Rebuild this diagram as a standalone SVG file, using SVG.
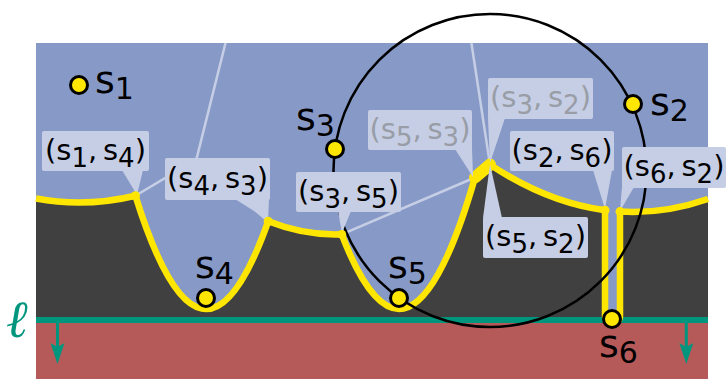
<svg xmlns="http://www.w3.org/2000/svg" width="726" height="379" viewBox="0 0 726 379">
<style>
.box{fill:#c6cee5}
.edge{stroke:#c6cee5;stroke-width:2.5;fill:none}
.beach{stroke:#ffe600;stroke-width:6.5;fill:none;stroke-linejoin:round}
.site{fill:#ffe600;stroke:#000;stroke-width:3}
.vtx{fill:#ffe600}
.lbl{font-family:"DejaVu Sans",sans-serif;font-size:29px;fill:#000}
.grey{fill:#989da6}
.sub{font-size:26px}
.slbl{font-family:"DejaVu Sans",sans-serif;font-size:38px;fill:#000}
.ssub{font-size:30px}
.teal{fill:#00967e}
</style>
<g id="background">
<rect x="36" y="43" width="672" height="275" fill="#879ac7"/>
<path d="M36,198.57 Q85.7,207.66 135.4,195.73 Q201.8,408.8 268.2,221.3 Q304.95,235.8 341.7,234.37 Q408.35,407.97 475,177.5 L490,164.6 Q547.5,202.73 605,210.19 L605,316 A7.5,7.5 0 0 0 620,316 L620,211.6 Q664,214.25 708,198.98 L708,318 L36,318 Z" fill="#404040"/>
<rect x="36" y="323" width="672" height="56" fill="#b65959"/>
<rect x="36" y="317" width="672" height="6" class="teal"/>
</g>
<g id="sweepline">
<rect x="56" y="323" width="3" height="24" class="teal"/>
<path d="M50.5,343 L57.5,364 L64.5,343 L57.5,347 Z" class="teal"/>
<rect x="684.8" y="323" width="3" height="24" class="teal"/>
<path d="M679.3,343 L686.3,364 L693.3,343 L686.3,347 Z" class="teal"/>
<text x="7" y="337" font-family="DejaVu Serif,serif" font-style="italic" font-weight="bold" font-size="52" class="teal">ℓ</text>
</g>
<g id="connectors">
<path class="edge" d="M135.4,195.8 L196.4,159.4 L225.5,43 M196.4,159.4 L268.2,221.2 M341.7,234.4 L475,177.5 M471.4,43 L490,164.6"/>
</g>
<g id="beachline">
<path class="beach" d="M36,198.57 Q85.7,207.66 135.4,195.73 Q201.8,408.8 268.2,221.3 Q304.95,235.8 341.7,234.37 Q408.35,407.97 475,177.5 L490,164.6 Q547.5,202.73 605,210.19 L605,316 A7.5,7.5 0 0 0 620,316 L620,211.6 Q664,214.25 708,198.98"/>
<path d="M475,177.5 L490,164.6" stroke="#ffe600" stroke-width="12" stroke-linecap="round"/>
</g>
<g id="circle">
<circle cx="490" cy="170.5" r="156.5" fill="none" stroke="#000" stroke-width="2.5"/>
</g>
<g id="label-s1s4">
<rect class="box" x="42" y="131" width="107" height="40" rx="2"/>
<polygon class="box" points="122,170 143,170 137,195"/>
<text class="lbl" x="95.5" y="160" text-anchor="middle">(s<tspan class="sub" dy="7">1</tspan><tspan dy="-7">,&#8201;s</tspan><tspan class="sub" dy="7">4</tspan><tspan dy="-7">)</tspan></text>
</g>
<g id="label-s4s3">
<rect class="box" x="165" y="158" width="105" height="42" rx="2"/>
<polygon class="box" points="235,199 269,199 268,220"/>
<text class="lbl" x="217.5" y="188" text-anchor="middle">(s<tspan class="sub" dy="7">4</tspan><tspan dy="-7">,&#8201;s</tspan><tspan class="sub" dy="7">3</tspan><tspan dy="-7">)</tspan></text>
</g>
<g id="label-s3s5">
<rect class="box" x="296" y="172" width="105" height="40" rx="2"/>
<polygon class="box" points="338,211 351,211 342,233"/>
<text class="lbl" x="348.5" y="201" text-anchor="middle">(s<tspan class="sub" dy="7">3</tspan><tspan dy="-7">,&#8201;s</tspan><tspan class="sub" dy="7">5</tspan><tspan dy="-7">)</tspan></text>
</g>
<g id="label-s5s3">
<rect class="box" x="368" y="110" width="104" height="40" rx="2"/>
<polygon class="box" points="455,149 472,149 473,177"/>
<text class="lbl grey" x="420" y="139" text-anchor="middle">(s<tspan class="sub" dy="7">5</tspan><tspan dy="-7">,&#8201;s</tspan><tspan class="sub" dy="7">3</tspan><tspan dy="-7">)</tspan></text>
</g>
<g id="label-s3s2">
<rect class="box" x="488" y="78" width="105" height="41" rx="2"/>
<polygon class="box" points="488,118 505,118 490,163"/>
<text class="lbl grey" x="540.5" y="107" text-anchor="middle">(s<tspan class="sub" dy="7">3</tspan><tspan dy="-7">,&#8201;s</tspan><tspan class="sub" dy="7">2</tspan><tspan dy="-7">)</tspan></text>
</g>
<g id="label-s2s6">
<rect class="box" x="510" y="131" width="104" height="40" rx="2"/>
<polygon class="box" points="593,170 612,170 605,209"/>
<text class="lbl" x="562" y="160" text-anchor="middle">(s<tspan class="sub" dy="7">2</tspan><tspan dy="-7">,&#8201;s</tspan><tspan class="sub" dy="7">6</tspan><tspan dy="-7">)</tspan></text>
</g>
<g id="label-s6s2">
<rect class="box" x="622" y="147" width="104" height="41" rx="2"/>
<polygon class="box" points="622,187 634,187 620,211"/>
<text class="lbl" x="674" y="176" text-anchor="middle">(s<tspan class="sub" dy="7">6</tspan><tspan dy="-7">,&#8201;s</tspan><tspan class="sub" dy="7">2</tspan><tspan dy="-7">)</tspan></text>
</g>
<g id="label-s5s2">
<rect class="box" x="483" y="217" width="105" height="41" rx="2"/>
<polygon class="box" points="490,164 483,218 502,218"/>
<text class="lbl" x="535.5" y="246" text-anchor="middle">(s<tspan class="sub" dy="7">5</tspan><tspan dy="-7">,&#8201;s</tspan><tspan class="sub" dy="7">2</tspan><tspan dy="-7">)</tspan></text>
</g>
<g id="breakpoints">
<circle class="vtx" cx="135.4" cy="195.8" r="4.5"/>
<circle class="vtx" cx="268.2" cy="221.2" r="4.5"/>
<circle class="vtx" cx="341.7" cy="234.4" r="4.5"/>
<circle class="vtx" cx="605" cy="210.2" r="4.5"/>
<circle class="vtx" cx="620" cy="211.6" r="4.5"/>
</g>
<g id="site-s1"><circle class="site" cx="79" cy="85" r="8.5"/><text class="slbl" x="95" y="93">s<tspan class="ssub" dy="6">1</tspan></text></g>
<g id="site-s2"><circle class="site" cx="633" cy="104" r="8.5"/><text class="slbl" x="650" y="115">s<tspan class="ssub" dy="6">2</tspan></text></g>
<g id="site-s3"><circle class="site" cx="335" cy="149" r="8.5"/><text class="slbl" x="296" y="130">s<tspan class="ssub" dy="6">3</tspan></text></g>
<g id="site-s4"><circle class="site" cx="206" cy="298" r="8.5"/><text class="slbl" x="195" y="278">s<tspan class="ssub" dy="6">4</tspan></text></g>
<g id="site-s5"><circle class="site" cx="399" cy="298" r="8.5"/><text class="slbl" x="388" y="278">s<tspan class="ssub" dy="6">5</tspan></text></g>
<g id="site-s6"><circle class="site" cx="612" cy="319" r="8.5"/><text class="slbl" x="599" y="357">s<tspan class="ssub" dy="6">6</tspan></text></g>
</svg>
